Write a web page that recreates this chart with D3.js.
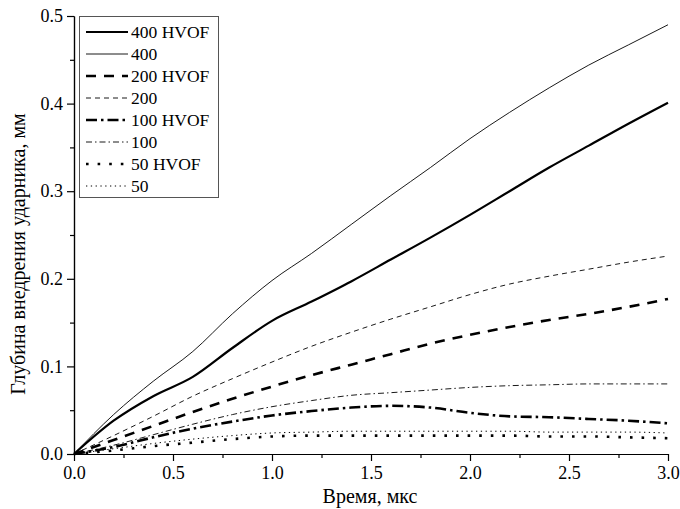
<!DOCTYPE html>
<html><head><meta charset="utf-8">
<script src="https://cdn.jsdelivr.net/npm/d3@7"></script>
<style>body{margin:0;background:#fff}</style>
</head><body>
<svg id="c" width="680" height="509"></svg>
<script>
const time = [0,0.2,0.4,0.6,0.8,1.0,1.2,1.4,1.6,1.8,2.0,2.2,2.4,2.6,2.8,3.0];
const s400hvof = [0,0.038,0.066,0.088,0.121,0.152,0.174,0.197,0.222,0.247,0.273,0.300,0.327,0.352,0.377,0.401];
const s400     = [0,0.045,0.083,0.117,0.160,0.198,0.229,0.262,0.295,0.327,0.360,0.390,0.418,0.444,0.467,0.490];
const s200hvof = [0,0.016,0.032,0.048,0.063,0.077,0.090,0.102,0.114,0.126,0.136,0.145,0.153,0.160,0.168,0.177];
const s200     = [0,0.021,0.043,0.066,0.086,0.105,0.123,0.139,0.154,0.168,0.182,0.194,0.203,0.211,0.219,0.226];
const s100hvof = [0,0.008,0.019,0.029,0.037,0.044,0.049,0.053,0.055,0.053,0.047,0.043,0.042,0.040,0.038,0.035];
const s100     = [0,0.010,0.022,0.034,0.045,0.054,0.061,0.067,0.070,0.073,0.076,0.078,0.079,0.080,0.080,0.080];
const s50hvof  = [0,0.004,0.009,0.013,0.017,0.020,0.021,0.021,0.021,0.021,0.021,0.021,0.020,0.020,0.019,0.018];
const s50      = [0,0.006,0.012,0.017,0.021,0.024,0.025,0.026,0.026,0.026,0.026,0.026,0.025,0.025,0.025,0.024];
const seriesNames = ["400 HVOF","400","200 HVOF","200","100 HVOF","100","50 HVOF","50"];
const seriesValues = [s400hvof,s400,s200hvof,s200,s100hvof,s100,s50hvof,s50];
const xTicks = [0,0.5,1.0,1.5,2.0,2.5,3.0];
const yTicks = [0,0.1,0.2,0.3,0.4,0.5];
const xLabel = "Время, мкс";
const yLabel = "Глубина внедрения ударника, мм";

const styles = [
  {w:2.2, dash:null},
  {w:0.9, dash:null},
  {w:2.6, dash:"10,8"},
  {w:0.9, dash:"5,4"},
  {w:2.6, dash:"11,4,2.5,4"},
  {w:0.9, dash:"6,3,1.5,3"},
  {w:2.6, dash:"2.6,9"},
  {w:1.0, dash:"1.3,3.5"}
];

const svg = d3.select("#c");
const font = "'Liberation Serif','Times New Roman',serif";
const x = d3.scaleLinear().domain([0,3]).range([74,668]);
const y = d3.scaleLinear().domain([0,0.5]).range([454,16]);

const line = d3.line().x((d,i)=>x(time[i])).y(d=>y(d)).curve(d3.curveMonotoneX);
const g = svg.append("g");
seriesValues.forEach((vals,k)=>{
  g.append("path").attr("d",line(vals)).attr("fill","none").attr("stroke","#000")
   .attr("stroke-width",styles[k].w).attr("stroke-dasharray",styles[k].dash);
});

// axes
const xAxis = d3.axisBottom(x).tickValues(xTicks).tickFormat(d3.format(".1f")).tickSize(7).tickSizeOuter(0).tickPadding(5);
const xMinor = d3.axisBottom(x).tickValues([0.25,0.75,1.25,1.75,2.25,2.75]).tickFormat("").tickSize(4).tickSizeOuter(0);
const yAxis = d3.axisLeft(y).tickValues(yTicks).tickFormat(d3.format(".1f")).tickSize(7).tickSizeOuter(0).tickPadding(4);
const yMinor = d3.axisLeft(y).tickValues([0.05,0.15,0.25,0.35,0.45]).tickFormat("").tickSize(4).tickSizeOuter(0);
function styleAxis(sel){
  sel.selectAll("path,line").attr("stroke","#000").attr("stroke-width",1.2);
  sel.selectAll("text").attr("font-family",font).attr("font-size",18).attr("fill","#000");
}
svg.append("g").attr("transform","translate(0,454)").call(xMinor).call(styleAxis);
svg.append("g").attr("transform","translate(0,454)").call(xAxis).call(styleAxis);
svg.append("g").attr("transform","translate(74,0)").call(yMinor).call(styleAxis);
svg.append("g").attr("transform","translate(74,0)").call(yAxis).call(styleAxis);

svg.append("text").attr("x",370).attr("y",503).attr("text-anchor","middle")
  .attr("font-family",font).attr("font-size",20).text(xLabel);
svg.append("text").attr("transform","translate(25,254) rotate(-90)").attr("text-anchor","middle")
  .attr("font-family",font).attr("font-size",20).text(yLabel);

// legend
const lg = svg.append("g");
lg.append("rect").attr("x",79.5).attr("y",16.5).attr("width",139).attr("height",181)
  .attr("fill","#fff").attr("stroke","#555").attr("stroke-width",1);
seriesNames.forEach((n,k)=>{
  const yy = 32 + k*22;
  lg.append("line").attr("x1",86).attr("x2",128).attr("y1",yy).attr("y2",yy)
    .attr("stroke","#000").attr("stroke-width",styles[k].w).attr("stroke-dasharray",styles[k].dash);
  lg.append("text").attr("x",131).attr("y",yy+6).attr("font-family",font).attr("font-size",17.5).text(n);
});
</script>
</body></html>
